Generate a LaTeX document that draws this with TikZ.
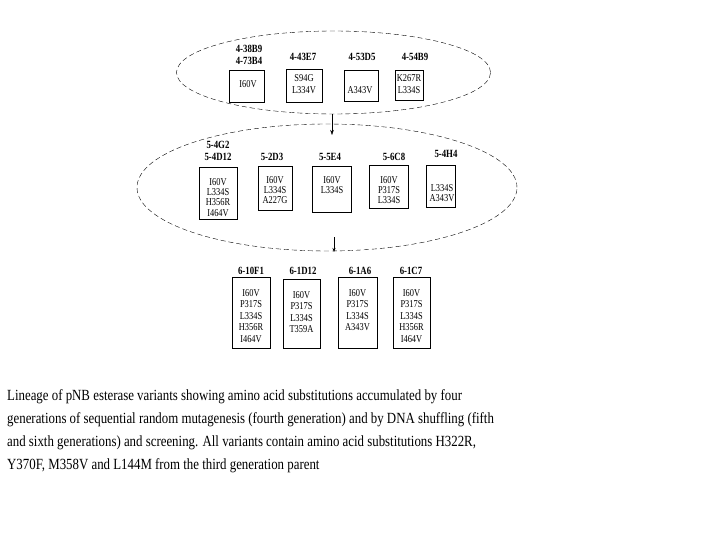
\documentclass[tikz,border=0pt]{standalone}
\usepackage{fontspec}
\setmainfont{Liberation Serif}
\newfontfamily\narrow[FakeStretch=0.8]{Liberation Serif}
\newfontfamily\capfont[FakeStretch=0.83]{Liberation Serif}
\usetikzlibrary{arrows.meta,positioning,shapes.geometric}

\begin{document}
\begin{tikzpicture}[x=1pt,y=-1pt,
        gen/.style={draw,ellipse,thin,dash pattern=on 5pt off 3pt,
                    inner sep=0pt},
        vbox/.style={draw,thin,inner sep=0pt},
        muts/.style={inner sep=0pt,align=center,
                     font=\narrow\fontsize{10.5}{11.6}\selectfont},
        tight/.style={font=\narrow\fontsize{10.5}{10.3}\selectfont},
        tag/.style={inner sep=0pt,align=center,
                    font=\narrow\bfseries\fontsize{11}{12}\selectfont}]
  \useasboundingbox (0,0) rectangle (720,540);

  % fourth generation
  \node[gen,minimum width=314pt,minimum height=83pt] (gen4) at (333.5,72.5) {};
  \node[tag] (t4a) at (249,55) {4-38B9\\4-73B4};
  \node[tag] (t4b) at (303,57) {4-43E7};
  \node[tag] (t4c) at (362,57) {4-53D5};
  \node[tag] (t4d) at (415,57) {4-54B9};
  \node[vbox,minimum width=35pt,minimum height=32pt] (b4a) at (247,86) {};
  \node[vbox,minimum width=36pt,minimum height=33pt] (b4b) at (304,86) {};
  \node[vbox,minimum width=34pt,minimum height=31pt] (b4c) at (361,86) {};
  \node[vbox,minimum width=28pt,minimum height=30pt] (b4d) at (409,85) {};
  \node[muts] (m4a) at (248,84) {I60V};
  \node[muts] (m4b) at (304,84) {S94G\\L334V};
  \node[muts] (m4c) at (360,90) {A343V};
  \node[muts] (m4d) at (409,84) {K267R\\L334S};

  % fifth generation
  \node[gen,minimum width=380pt,minimum height=127pt] (gen5) at (327,187.5) {};
  \node[tag] (t5a) at (218,151) {5-4G2\\5-4D12};
  \node[tag] (t5b) at (272,157) {5-2D3};
  \node[tag] (t5c) at (330,157) {5-5E4};
  \node[tag] (t5d) at (394,157) {5-6C8};
  \node[tag] (t5e) at (446,154) {5-4H4};
  \node[vbox,minimum width=38pt,minimum height=52pt] (b5a) at (218,193) {};
  \node[vbox,minimum width=34pt,minimum height=44pt] (b5b) at (275,188) {};
  \node[vbox,minimum width=39pt,minimum height=46pt] (b5c) at (332,189) {};
  \node[vbox,minimum width=39pt,minimum height=43pt] (b5d) at (389,186.5) {};
  \node[vbox,minimum width=29pt,minimum height=42pt] (b5e) at (441,186) {};
  \node[muts,tight,anchor=north] (m5a) at (218,178) {I60V\\L334S\\H356R\\I464V};
  \node[muts,tight,anchor=north] (m5b) at (275,176) {I60V\\L334S\\A227G};
  \node[muts,tight,anchor=north] (m5c) at (332,176) {I60V\\L334S};
  \node[muts,tight,anchor=north] (m5d) at (389,176) {I60V\\P317S\\L334S};
  \node[muts,tight,anchor=north] (m5e) at (442,184) {L334S\\A343V};

  % sixth generation
  \node[tag] (t6a) at (251,271) {6-10F1};
  \node[tag] (t6b) at (303,271) {6-1D12};
  \node[tag] (t6c) at (360,271) {6-1A6};
  \node[tag] (t6d) at (411,271) {6-1C7};
  \node[vbox,minimum width=38pt,minimum height=71pt] (b6a) at (251,312.5) {};
  \node[vbox,minimum width=37pt,minimum height=69pt] (b6b) at (301.5,313.5) {};
  \node[vbox,minimum width=39pt,minimum height=71pt] (b6c) at (357.5,312.5) {};
  \node[vbox,minimum width=37pt,minimum height=71pt] (b6d) at (411.5,312.5) {};
  \node[muts,anchor=north] (m6a) at (251,289) {I60V\\P317S\\L334S\\H356R\\I464V};
  \node[muts,anchor=north] (m6b) at (301.5,291) {I60V\\P317S\\L334S\\T359A};
  \node[muts,anchor=north] (m6c) at (357.5,289) {I60V\\P317S\\L334S\\A343V};
  \node[muts,anchor=north] (m6d) at (411.5,289) {I60V\\P317S\\L334S\\H356R\\I464V};

  % arrows between generations
  \coordinate (a1) at (332,114);
  \coordinate (h1) at (332,135);
  \coordinate (a2) at (334,237);
  \coordinate (h2) at (334,252);
  \draw[-{Stealth[length=5pt,width=3.5pt]}] (a1) -- (h1);
  \draw[-{Stealth[length=4pt,width=3pt]}] (a2) -- (h2);

  % caption
  \node[inner sep=0pt,anchor=north west,align=left,
        font=\capfont\fontsize{15.5}{23}\selectfont] (cap) at (7,389)
    {Lineage of pNB esterase variants showing amino acid substitutions accumulated by four\\
     generations of sequential random mutagenesis (fourth generation) and by DNA shuffling (fifth\\
     and sixth generations) and screening. All variants contain amino acid substitutions H322R,\\
     Y370F, M358V and L144M from the third generation parent};
\end{tikzpicture}
\end{document}
